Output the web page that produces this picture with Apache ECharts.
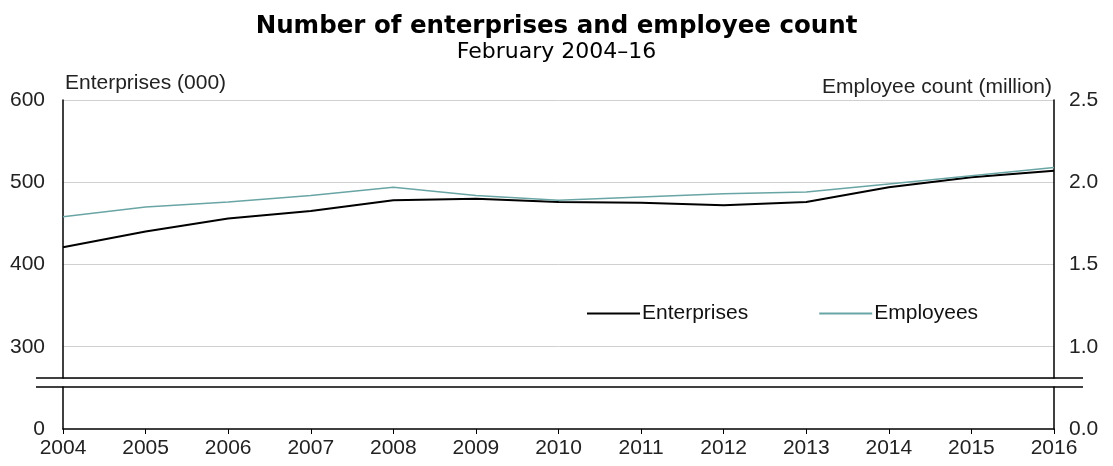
<!DOCTYPE html>
<html>
<head>
<meta charset="utf-8">
<script src="https://cdn.jsdelivr.net/npm/echarts@6/dist/echarts.min.js"></script>
<style>
  html, body { margin: 0; padding: 0; background: #fff; }
  #chart { width: 1113px; height: 466px; }
</style>
</head>
<body>
<div id="chart"></div>
<script>
const years = ['2004','2005','2006','2007','2008','2009','2010','2011','2012','2013','2014','2015','2016'];
const enterprises = [421, 440, 456, 465, 478, 480, 476, 475, 472, 476, 494, 506, 514];
const employees = [1.79, 1.85, 1.88, 1.92, 1.97, 1.92, 1.89, 1.91, 1.93, 1.94, 1.99, 2.04, 2.09];

const font = '"Liberation Sans", Arial, sans-serif';
const titleFont = '"DejaVu Sans", Verdana, sans-serif';
// layout of the two stacked grids (broken axis)
const L = 63, R = 59, TOP = 100, BREAK1 = 378, BREAK2 = 387, BOTTOM = 429;

var myChart = echarts.init(document.getElementById('chart'));

const axisLine = { show: true, lineStyle: { color: '#000', width: 1.5 } };
const gray = { show: true, lineStyle: { color: '#d0d0d0', width: 1 } };
const lab = { color: '#222', fontSize: 21, fontFamily: font };

var option = {
  animation: false,
  title: {
    text: 'Number of enterprises and employee count',
    subtext: 'February 2004\u201316',
    left: 'center',
    top: 9,
    itemGap: 2,
    textStyle: { fontSize: 24.5, fontWeight: 'bold', color: '#000', fontFamily: titleFont },
    subtextStyle: { fontSize: 22, color: '#000', fontFamily: titleFont }
  },
  legend: {
    left: 582,
    top: 298,
    itemWidth: 53,
    itemHeight: 2,
    itemGap: 71,
    data: [
      { name: 'Enterprises', icon: 'rect' },
      { name: 'Employees', icon: 'rect' }
    ],
    textStyle: { fontSize: 21, color: '#111', fontFamily: font, padding: [0, 0, 0, -3] }
  },
  grid: [
    { left: L, right: R, top: TOP, height: BREAK1 - TOP },
    { left: L, right: R, top: BREAK2, height: BOTTOM - BREAK2 }
  ],
  xAxis: [
    { type: 'category', gridIndex: 0, data: years, boundaryGap: false,
      axisLine: { show: false }, axisTick: { show: false }, axisLabel: { show: false } },
    { type: 'category', gridIndex: 1, data: years, boundaryGap: false,
      axisLine: axisLine,
      axisTick: { show: true, length: 5, lineStyle: { color: '#000' } },
      axisLabel: Object.assign({ margin: 9 }, lab) }
  ],
  yAxis: [
    { type: 'value', gridIndex: 0, position: 'left', min: 262, max: 600,
      minInterval: 100, maxInterval: 100,
      name: 'Enterprises (000)', nameLocation: 'end', nameGap: 6,
      nameTextStyle: { align: 'left', padding: [0, 0, 0, 2], fontSize: 21, color: '#222', fontFamily: font },
      axisLine: axisLine, axisTick: { show: false }, splitLine: gray,
      axisLabel: Object.assign({ margin: 18, showMinLabel: false }, lab) },
    { type: 'value', gridIndex: 0, position: 'right', min: 0.81, max: 2.5,
      minInterval: 0.5, maxInterval: 0.5,
      name: 'Employee count (million)', nameLocation: 'end', nameGap: 2,
      nameTextStyle: { align: 'right', padding: [0, 2, 0, 0], fontSize: 21, color: '#222', fontFamily: font },
      axisLine: axisLine, axisTick: { show: false }, splitLine: { show: false },
      axisLabel: Object.assign({ margin: 15, showMinLabel: false, formatter: v => v.toFixed(1) }, lab) },
    { type: 'value', gridIndex: 1, position: 'left', min: 0, max: 100, interval: 100,
      axisLine: axisLine, axisTick: { show: false }, splitLine: { show: false },
      axisLabel: Object.assign({ margin: 18, showMaxLabel: false }, lab) },
    { type: 'value', gridIndex: 1, position: 'right', min: 0, max: 1, interval: 1,
      axisLine: axisLine, axisTick: { show: false }, splitLine: { show: false },
      axisLabel: Object.assign({ margin: 15, showMaxLabel: false, formatter: v => v.toFixed(1) }, lab) }
  ],
  graphic: [
    { type: 'line', shape: { x1: 36, y1: BREAK1, x2: 1083, y2: BREAK1 },
      style: { stroke: '#000', lineWidth: 1.5 }, z: 10 },
    { type: 'line', shape: { x1: 36, y1: BREAK2, x2: 1083, y2: BREAK2 },
      style: { stroke: '#000', lineWidth: 1.5 }, z: 10 }
  ],
  series: [
    { name: 'Enterprises', type: 'line', xAxisIndex: 0, yAxisIndex: 0, data: enterprises,
      symbol: 'none', lineStyle: { color: '#000', width: 2 }, itemStyle: { color: '#000' } },
    { name: 'Employees', type: 'line', xAxisIndex: 0, yAxisIndex: 1, data: employees,
      symbol: 'none', lineStyle: { color: '#6aa5a5', width: 1.5 }, itemStyle: { color: '#6aa5a5' } }
  ]
};

option && myChart.setOption(option);
</script>
</body>
</html>
